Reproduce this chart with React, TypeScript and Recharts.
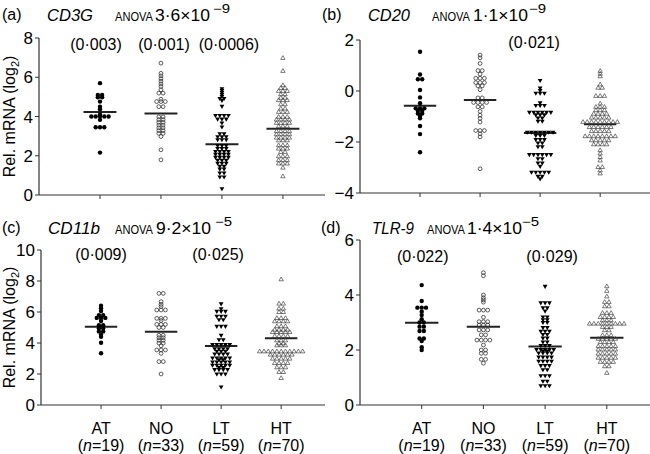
import React from 'react';
import { ScatterChart, Scatter, XAxis, YAxis, ReferenceLine } from 'recharts';

const FF = '"Liberation Sans", Arial, Helvetica, sans-serif';

const categories = ['AT', 'NO', 'LT', 'HT'];
const groupSizes = [19, 33, 59, 70];

// ---------- (a) CD3G ----------
const cd3gAT = [5.7, 5.1, 5.1, 4.98, 4.98, 4.76, 4.5, 4.37, 4.1, 4.0, 4.0, 4.0, 4.0, 4.0, 3.83, 3.45, 3.45, 3.45, 2.16];
const cd3gNO = [6.72, 6.2, 6.07, 5.93, 5.8, 5.66, 5.53, 5.36, 5.19, 5.19, 4.88, 4.76, 4.76, 4.76, 4.5, 4.5,
  3.98, 3.98, 3.84, 3.84, 3.7, 3.7, 3.56, 3.56, 3.42, 3.42, 3.28, 3.28, 3.14, 3.14, 2.98, 2.3, 1.79];
const cd3gLT = [5.4, 5.3, 5.2, 5.1, 5.0, 4.9, 4.9, 4.8, 4.5, 4.03, 4.03, 4.03, 4.03, 3.85, 3.85, 3.85, 3.65, 3.45,
  3.1, 3.1, 2.95, 2.95, 2.95, 2.8, 2.8, 2.8,
  2.5, 2.5, 2.5, 2.35, 2.35, 2.35, 2.2, 2.2, 2.2, 2.2, 2.05, 2.05, 2.05, 2.05, 1.9, 1.9, 1.9, 1.9,
  1.75, 1.75, 1.75, 1.6, 1.6, 1.6, 1.45, 1.45, 1.3, 1.3, 1.1, 1.1, 0.9, 0.9, 0.3];
const cd3gHT = [7.0, 6.34, 5.61, 5.47, 5.47, 5.32, 5.32, 5.32, 5.15, 5.15, 4.97, 4.97, 4.85, 4.85, 4.85,
  4.64, 4.64, 4.42, 4.42, 4.25, 4.25, 4.25, 4.0, 4.0, 4.0, 3.86, 3.86, 3.86, 3.86, 3.69, 3.69, 3.69, 3.69,
  3.52, 3.52, 3.52, 3.27, 3.27, 3.27, 3.27, 3.11, 3.11, 3.11, 3.11, 2.94, 2.94, 2.94, 2.94, 2.8, 2.8, 2.8,
  2.55, 2.55, 2.55, 2.38, 2.38, 2.38, 2.21, 2.21, 1.99, 1.99, 1.99, 1.79, 1.79, 1.79, 1.62, 1.62, 1.62, 1.41, 0.97];
const cd3gMeans = [4.23, 4.15, 2.58, 3.38];
const cd3gP = ['(0·003)', '(0·001)', '(0·0006)', ''];

// ---------- (b) CD20 ----------
const cd20AT = [1.54, 0.65, 0.46, 0.46, 0.04, -0.25, -0.48, -0.68, -0.68, -0.68, -0.77, -0.77, -0.88, -0.88, -0.98, -1.07, -1.37, -1.69, -2.4];
const cd20NO = [1.41, 1.3, 1.08, 0.8, 0.8, 0.66, 0.5, 0.5, 0.5, 0.33, 0.33, 0.33, 0.2, 0.2, 0.05,
  -0.27, -0.27, -0.45, -0.45, -0.45, -0.45, -0.62, -0.62, -0.8, -0.95, -1.07, -1.22, -1.55, -1.55, -1.55, -1.68, -1.8, -3.05];
const cd20LT = [0.4, 0.1, 0.0, -0.1, -0.1, -0.1, -0.48, -0.58, -0.58, -0.58,
  -0.85, -0.85, -0.85, -0.85, -0.85, -0.85, -0.95, -0.95, -0.95, -1.07, -1.07, -1.2, -1.2,
  -1.63, -1.63, -1.63, -1.63, -1.63, -1.63, -1.63, -1.76, -1.76, -1.76, -1.92, -1.92, -1.92, -2.05, -2.05, -2.2, -2.2,
  -2.51, -2.51, -2.51, -2.51, -2.51, -2.51, -2.67, -2.67, -2.84, -2.84, -2.97,
  -3.2, -3.2, -3.2, -3.2, -3.2, -3.36, -3.36, -3.46];
const cd20HT = [0.8, 0.69, 0.59, 0.27, 0.14, 0.14, -0.18, -0.18, -0.18,
  -0.48, -0.61, -0.61, -0.61, -0.74, -0.74, -0.74, -0.88, -0.88, -0.88, -0.88, -1.03, -1.03, -1.03, -1.03, -1.03,
  -1.2, -1.2, -1.2, -1.2, -1.2, -1.2, -1.2, -1.2, -1.2, -1.4, -1.4, -1.4, -1.4, -1.4, -1.4,
  -1.56, -1.56, -1.56, -1.56, -1.56, -1.76, -1.76, -1.76, -1.76, -1.76, -1.76, -1.76, -1.76,
  -1.92, -1.92, -1.92, -1.92, -1.92, -2.08, -2.08, -2.08, -2.08,
  -2.31, -2.44, -2.58, -2.71, -2.97, -2.97, -3.1, -3.22];
const cd20Means = [-0.58, -0.35, -1.65, -1.3];
const cd20P = ['', '', '(0·021)', ''];

// ---------- (c) CD11b ----------
const cd11bAT = [6.41, 6.24, 6.06, 5.8, 5.8, 5.62, 5.62, 5.62, 5.42, 5.15, 5.15, 4.95, 4.95, 4.75, 4.75, 4.55, 4.4, 4.02, 3.34];
const cd11bNO = [7.2, 7.2, 6.67, 6.49, 6.35, 6.13, 6.13, 6.13, 5.59, 5.59, 5.59, 5.45, 5.2, 5.2, 5.2, 5.0, 5.0,
  4.5, 4.5, 4.34, 4.34, 4.17, 4.17, 3.99, 3.99, 3.82, 3.55, 3.55, 3.55, 3.33, 2.8, 2.8, 2.0];
const cd11bLT = [6.5, 6.19, 6.02, 6.02, 6.02, 5.7, 5.7, 5.7, 5.48, 5.48, 5.05, 5.05, 5.05, 4.47, 4.19, 4.19,
  3.87, 3.87, 3.87, 3.87, 3.87, 3.61, 3.61, 3.61, 3.61, 3.45, 3.45, 3.45, 3.27, 3.27, 3.27, 3.27,
  3.01, 3.01, 3.01, 3.01, 3.01, 2.9, 2.9, 2.75, 2.75, 2.75, 2.75, 2.75, 2.54, 2.54, 2.54, 2.54, 2.54,
  2.4, 2.4, 2.26, 2.26, 2.26, 2.26, 1.98, 1.98, 1.98, 1.14];
const cd11bHT = [8.13, 6.56, 6.56, 6.24, 6.24, 6.02, 6.02, 5.63, 5.63, 5.63, 5.42, 5.42, 5.42, 5.42,
  5.1, 5.1, 5.1, 4.88, 4.88, 4.88, 4.88, 4.73, 4.73, 4.73, 4.73, 4.73, 4.47, 4.47, 4.47, 4.47,
  4.19, 4.19, 4.19, 4.0, 4.0, 3.87, 3.87, 3.87,
  3.48, 3.48, 3.48, 3.48, 3.48, 3.48, 3.48, 3.48, 3.48, 3.48, 3.48, 3.27, 3.27, 3.27, 3.27, 3.27, 3.27,
  3.01, 3.01, 3.01, 3.01, 3.01, 2.73, 2.73, 2.73, 2.73, 2.45, 2.45, 2.45, 2.15, 2.15, 1.76];
const cd11bMeans = [5.05, 4.73, 3.8, 4.3];
const cd11bP = ['(0·009)', '', '(0·025)', ''];

// ---------- (d) TLR-9 ----------
const tlr9AT = [4.36, 3.78, 3.54, 3.54, 3.54, 3.39, 3.27, 3.12, 3.0, 3.0, 2.85, 2.85, 2.69, 2.69, 2.42, 2.42, 2.33, 2.1, 2.0];
const tlr9NO = [4.81, 4.7, 4.0, 3.9, 3.82, 3.74, 3.45, 3.45, 3.45, 3.19, 3.03, 3.03, 3.03, 2.91, 2.91, 2.91,
  2.73, 2.73, 2.73, 2.55, 2.55, 2.36, 2.36, 2.36, 2.36, 2.18, 2.0, 2.0, 1.88, 1.88, 1.66, 1.66, 1.52];
const tlr9LT = [4.3, 3.7, 3.7, 3.7, 3.52, 3.52, 3.4, 3.19, 3.19, 3.09, 3.09, 2.99, 2.99, 2.8, 2.8,
  2.67, 2.67, 2.67, 2.55, 2.55, 2.42, 2.42, 2.28, 2.28, 2.15, 2.15, 2.15, 2.0, 2.0, 2.0, 2.0, 2.0, 1.95, 1.95,
  1.88, 1.88, 1.88, 1.88, 1.73, 1.73, 1.73, 1.73, 1.58, 1.58, 1.58, 1.58, 1.42, 1.42, 1.42, 1.27, 1.27,
  1.05, 1.05, 1.05, 0.85, 0.85, 0.69, 0.69, 0.69];
const tlr9HT = [4.33, 4.16, 3.96, 3.76, 3.76, 3.6, 3.6, 3.36, 3.36, 3.36, 3.21, 3.21, 3.21, 3.21, 3.09, 3.09, 3.09,
  2.97, 2.97, 2.97, 2.97, 2.97, 2.97, 2.97, 2.97, 2.97, 2.85, 2.85, 2.85, 2.73, 2.73, 2.55, 2.55, 2.55,
  2.42, 2.42, 2.42, 2.42, 2.42, 2.3, 2.3, 2.3, 2.3, 2.15, 2.15, 2.15, 2.15, 2.15, 2.03, 2.03, 2.03, 2.03, 2.03,
  1.88, 1.88, 1.88, 1.88, 1.88, 1.73, 1.73, 1.73, 1.73, 1.73, 1.58, 1.58, 1.58, 1.58, 1.42, 1.42, 1.18];
const tlr9Means = [2.99, 2.85, 2.13, 2.45];
const tlr9P = ['(0·022)', '', '(0·029)', ''];

// ---------- layout ----------
type Panel = {
  left: number; top: number; w: number; h: number; yW: number; mTop: number; xH: number;
  xMax: number; yDomain: [number, number]; yTicks: number[]; groups: number[][]; means: number[];
  pvals: string[]; pY: number; pDx: number[]; bottom: boolean; pxPerUnit: number;
};

const panels: Panel[] = [
  { left: 0, top: 0, w: 325, h: 225, yW: 39, mTop: 38, xH: 30, xMax: 4.69, yDomain: [0, 8], yTicks: [0, 2, 4, 6, 8],
    groups: [cd3gAT, cd3gNO, cd3gLT, cd3gHT], means: cd3gMeans, pvals: cd3gP, pY: 7.4, pDx: [-4, 3, 7, 0], bottom: false, pxPerUnit: 61 },
  { left: 325, top: 0, w: 325, h: 225, yW: 35, mTop: 40, xH: 32, xMax: 4.83, yDomain: [-4, 2], yTicks: [-4, -2, 0, 2],
    groups: [cd20AT, cd20NO, cd20LT, cd20HT], means: cd20Means, pvals: cd20P, pY: 1.69, pDx: [0, 0, -6, 0], bottom: false, pxPerUnit: 60 },
  { left: 0, top: 225, w: 325, h: 229, yW: 41, mTop: 25, xH: 49, xMax: 4.73, yDomain: [0, 10], yTicks: [0, 2, 4, 6, 8, 10],
    groups: [cd11bAT, cd11bNO, cd11bLT, cd11bHT], means: cd11bMeans, pvals: cd11bP, pY: 9.35, pDx: [0, 0, -3, 0], bottom: true, pxPerUnit: 60 },
  { left: 325, top: 225, w: 325, h: 229, yW: 35, mTop: 15, xH: 49, xMax: 4.7, yDomain: [0, 6], yTicks: [0, 2, 4, 6],
    groups: [tlr9AT, tlr9NO, tlr9LT, tlr9HT], means: tlr9Means, pvals: tlr9P, pY: 5.21, pDx: [1, 0, 7, 0], bottom: true, pxPerUnit: 61.7 },
];

function swarm(values: number[], cat: number, dx: number) {
  const counts = new Map<number, number>();
  values.forEach((v) => counts.set(v, (counts.get(v) || 0) + 1));
  const seen = new Map<number, number>();
  return values.map((v) => {
    const k = counts.get(v) as number;
    const i = seen.get(v) || 0;
    seen.set(v, i + 1);
    return { x: cat + (i - (k - 1) / 2) * dx, y: v };
  });
}

const FilledCircle = (p: any) => <circle cx={p.cx} cy={p.cy} r={2.2} fill="#000" />;
const OpenCircle = (p: any) => <circle cx={p.cx} cy={p.cy} r={1.9} fill="none" stroke="#333" strokeWidth={0.8} />;
const FilledDown = (p: any) => (
  <path d={`M${p.cx - 2.4},${p.cy - 1.9}L${p.cx + 2.4},${p.cy - 1.9}L${p.cx},${p.cy + 2.2}Z`} fill="#000" />
);
const OpenUp = (p: any) => (
  <path d={`M${p.cx - 2.2},${p.cy + 1.8}L${p.cx + 2.2},${p.cy + 1.8}L${p.cx},${p.cy - 2}Z`} fill="none" stroke="#444" strokeWidth={0.7} />
);
const shapes = [FilledCircle, OpenCircle, FilledDown, OpenUp];

const EmptyTick = () => <g />;
const CatTick = (props: any) => {
  const { x, y, payload } = props;
  const i = Math.round(payload.value) - 1;
  return (
    <g>
      <text x={x} y={y + 25} textAnchor="middle" fontSize={16} fontFamily={FF} fill="#000">{categories[i]}</text>
      <text x={x} y={y + 42} textAnchor="middle" fontSize={16} fontFamily={FF} fill="#000">
        (<tspan fontStyle="italic">n</tspan>={groupSizes[i]})
      </text>
    </g>
  );
};

const fmtY = (v: number) => (v < 0 ? `\u2212${-v}` : `${v}`);

function PanelChart({ p }: { p: Panel }) {
  const dx = 4.3 / p.pxPerUnit;
  const pData = p.pvals
    .map((t, i) => ({ x: i + 1, y: p.pY, text: t, dxPx: p.pDx[i] }))
    .filter((d) => d.text !== '');
  return (
    <div style={{ position: 'absolute', left: p.left, top: p.top, width: p.w, height: p.h }}>
      <ScatterChart width={p.w} height={p.h} margin={{ top: p.mTop, right: 0, left: 0, bottom: 0 }}>
        <XAxis
          type="number"
          dataKey="x"
          domain={[0, p.xMax]}
          ticks={[1, 2, 3, 4]}
          interval={0}
          height={p.xH}
          tickSize={4}
          tickMargin={0}
          axisLine={{ stroke: '#333', strokeWidth: 1.2 }}
          tickLine={{ stroke: '#333' }}
          tick={p.bottom ? <CatTick /> : <EmptyTick />}
        />
        <YAxis
          type="number"
          dataKey="y"
          domain={p.yDomain}
          ticks={p.yTicks}
          interval={0}
          width={p.yW}
          tickSize={4}
          tickMargin={2}
          tickFormatter={fmtY}
          axisLine={{ stroke: '#333', strokeWidth: 1.2 }}
          tickLine={{ stroke: '#333' }}
          tick={{ fontSize: 17, fill: '#000', fontFamily: FF }}
        />
        {p.groups.map((g, i) => (
          <Scatter key={i} data={swarm(g, i + 1, dx)} shape={shapes[i]} isAnimationActive={false} />
        ))}
        {p.means.map((m, i) => (
          <ReferenceLine
            key={'m' + i}
            segment={[{ x: i + 1 - 0.27, y: m }, { x: i + 1 + 0.27, y: m }]}
            stroke="#222"
            strokeWidth={2}
          />
        ))}
        <Scatter
          data={pData}
          isAnimationActive={false}
          shape={(s: any) => (
            <text x={s.cx + s.payload.dxPx} y={s.cy} textAnchor="middle" fontSize={16} fontFamily={FF} fill="#000">
              {s.payload.text}
            </text>
          )}
        />
      </ScatterChart>
    </div>
  );
}

const titles = [
  { x: 2, y: 21, tag: '(a)', gene: 'CD3G', gx: 47, gw: 46, ax: 115, num: '3·6×10', nx: 155, exp: '−9', ex: 213 },
  { x: 322, y: 21, tag: '(b)', gene: 'CD20', gx: 368, gw: 42, ax: 432, num: '1·1×10', nx: 473, exp: '−9', ex: 529 },
  { x: 2, y: 234, tag: '(c)', gene: 'CD11b', gx: 48, gw: 52, ax: 115, num: '9·2×10', nx: 156, exp: '−5', ex: 215 },
  { x: 321, y: 234, tag: '(d)', gene: 'TLR-9', gx: 372, gw: 42, ax: 427, num: '1·4×10', nx: 467, exp: '−5', ex: 522 },
];

const yTitles = [{ x: 15, y: 116.5 }, { x: 15, y: 327.5 }];

export default function App() {
  return (
    <div style={{ position: 'absolute', left: 0, top: 0, width: 650, height: 454, background: '#fff', overflow: 'hidden' }}>
      {panels.map((p, i) => (
        <PanelChart key={i} p={p} />
      ))}
      <svg width={650} height={454} style={{ position: 'absolute', left: 0, top: 0, pointerEvents: 'none' }}>
        {titles.map((t, i) => (
          <g key={i} fontFamily={FF} fill="#000">
            <text x={t.x} y={t.y - 1.5} fontSize={16}>{t.tag}</text>
            <text x={t.gx} y={t.y} fontSize={16.5} fontStyle="italic" textLength={t.gw} lengthAdjust="spacingAndGlyphs">{t.gene}</text>
            <text x={t.ax} y={t.y} fontSize={12.5} textLength={38} lengthAdjust="spacingAndGlyphs">ANOVA</text>
            <text x={t.nx} y={t.y} fontSize={17} textLength={55} lengthAdjust="spacingAndGlyphs">{t.num}</text>
            <text x={t.ex} y={t.y - 8.5} fontSize={12} textLength={17} lengthAdjust="spacingAndGlyphs">{t.exp}</text>
          </g>
        ))}
        {yTitles.map((t, i) => (
          <text
            key={'y' + i}
            x={t.x}
            y={t.y}
            transform={`rotate(-90, ${t.x}, ${t.y})`}
            textAnchor="middle"
            fontSize={16}
            fontFamily={FF}
            fill="#000"
          >
            Rel. mRNA (log<tspan fontSize={11} dy={4}>2</tspan><tspan dy={-4}>)</tspan>
          </text>
        ))}
      </svg>
    </div>
  );
}
